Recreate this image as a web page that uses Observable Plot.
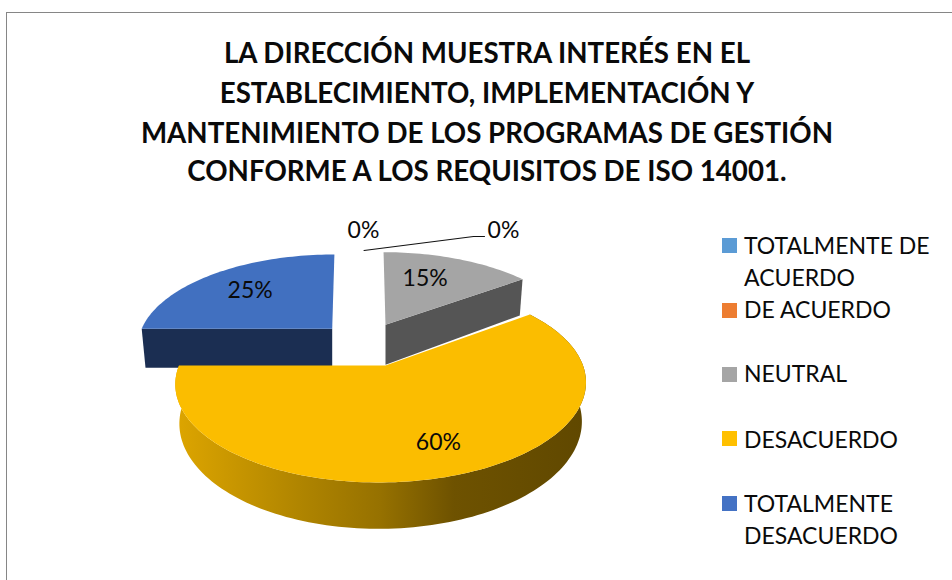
<!DOCTYPE html>
<html><head><meta charset="utf-8">
<script src="https://cdn.jsdelivr.net/npm/d3@7"></script>
<script src="https://cdn.jsdelivr.net/npm/@observablehq/plot@0.6"></script>
<style>
html,body{margin:0;padding:0;background:#fff;overflow:hidden}
#page{position:relative;width:952px;height:580px;overflow:hidden;font-family:Lato,"Open Sans",sans-serif;color:#0a0a0a}
#frame{position:absolute;left:6px;top:12px;width:1000px;height:700px;border:1px solid #868686;border-left-width:1.5px;box-sizing:border-box;pointer-events:none}
#chart{position:absolute;left:0;top:0}
#title div{position:absolute;left:0;width:974px;text-align:center;font-weight:700;font-size:27.7px;line-height:40px;white-space:nowrap}
.lg{position:absolute;left:744px;font-size:23px;line-height:32px;white-space:nowrap}
.sw{position:absolute;left:722px;width:15px;height:15px}
</style></head><body>
<div id="page"><div id="frame"></div><div id="chart"></div><div id="title"></div><div id="legend"></div></div>
<script>
const titleLines = ["LA DIRECCIÓN MUESTRA INTERÉS EN EL","ESTABLECIMIENTO, IMPLEMENTACIÓN Y","MANTENIMIENTO DE LOS PROGRAMAS DE GESTIÓN","CONFORME A LOS REQUISITOS DE ISO 14001."];
const categories = ["TOTALMENTE DE ACUERDO","DE ACUERDO","NEUTRAL","DESACUERDO","TOTALMENTE DESACUERDO"];
const shares = [0,0,15,60,25];
const topColors = ["#5B9BD5","#ED7D31","#A5A5A5","#FBBD00","#4170C0"];
const legendColors = ["#5B9BD5","#ED7D31","#A5A5A5","#FFC000","#4472C4"];
const sideColors = ["#3A6A94","#9C5220","#555555","url(#sideGold)","#1B2E52"];
const legendLines = [["TOTALMENTE DE","ACUERDO"],["DE ACUERDO"],["NEUTRAL"],["DESACUERDO"],["TOTALMENTE","DESACUERDO"]];

// Pie geometry (layout, per exploded slice)
const K = 0.18;
const geom = {
  NEUTRAL:{cx:385,cy:324.3,a:189,b:85.7,s:-2.3,h:40,vx:385,labelR:.67,labelDx:-11},
  DESACUERDO:{cx:380.5,cy:365,a:202,b:95.9,s:2,h:38,vx:385,labelR:.735,labelDx:6.5},
  "TOTALMENTE DESACUERDO":{cx:331.7,cy:328.3,a:190.5,b:87.7,s:2.6,h:39,vx:331.7,labelR:.67,labelDx:0}
};
function proj(g,ang,r=1,bottom=false){
  const X=Math.sin(ang)*r, Y=Math.cos(ang)*r, D=1+K*Y, sc=bottom?0.98:1;
  return {x:g.cx+sc*g.a*X/D+g.s*Y/D, y:g.cy-g.b*Y/D+(bottom?g.h/D:0)};
}
function arc(g,a0,a1,bottom=false){
  const n=Math.ceil(Math.abs(a1-a0)/(Math.PI/120));
  return d3.range(n+1).map(i=>proj(g,a0+(a1-a0)*i/n,1,bottom));
}
const arcs = d3.pie().sort(null).value(d=>d)(shares);
const slices = categories.map((c,i)=>({name:c,share:shares[i],start:arcs[i].startAngle,end:arcs[i].endAngle,top:topColors[i],side:sideColors[i],g:geom[c]}));

const marks=[];
const poly=(pts,fill)=>marks.push(Plot.line(pts,{x:"x",y:"y",fill,stroke:"none"}));
const order=["TOTALMENTE DESACUERDO","NEUTRAL","DESACUERDO"];
for(const name of order){
  const s=slices.find(d=>d.name===name), g=s.g;
  const c={x:g.vx,y:g.cy}, cb={x:g.vx,y:g.cy+g.h};
  if(name==="DESACUERDO"){
    poly([...arc(g,s.start,s.end),...arc(g,s.end,s.start,true)],s.side);
    poly([c,...arc(g,s.start,s.end)],s.top);
  } else if(name==="NEUTRAL"){
    const e=proj(g,s.end), eb=proj(g,s.end,1,true);
    poly([c,e,eb,cb],s.side);
    poly([c,...arc(g,s.start,s.end)],s.top);
  } else {
    const e=proj(g,s.start), eb=proj(g,s.start,1,true);
    poly([c,e,eb,cb],s.side);
    poly([c,...arc(g,s.start,s.end)],s.top);
  }
}
// leader line of the zero-share labels
const leader=[{x:363.5,y:250},{x:473,y:236},{x:484,y:236}];
marks.push(Plot.line(leader,{x:"x",y:"y",stroke:"#111",strokeWidth:1.1}));
const labelRows=slices.filter(d=>d.g).map(s=>{
  const m=(s.start+s.end)/2, p=proj(s.g,m,s.g.labelR);
  return {x:p.x+s.g.labelDx,y:p.y,t:s.share+"%"};
});
labelRows.push({x:363,y:230,t:shares[0]+"%"},{x:503,y:230,t:shares[1]+"%"});
marks.push(Plot.text(labelRows,{x:"x",y:"y",text:"t",fontSize:23,fill:"#0a0a0a",fontFamily:"Lato",textAnchor:"middle",lineAnchor:"middle"}));
// gradient definition for the rim of the largest slice
marks.push(()=>{
  const svgNS="http://www.w3.org/2000/svg";
  const d=document.createElementNS(svgNS,"defs");
  d.innerHTML=`<linearGradient id="sideGold" gradientUnits="userSpaceOnUse" x1="176" y1="0" x2="584" y2="0">
   <stop offset="0" stop-color="#DDA500"/><stop offset=".3" stop-color="#B08500"/><stop offset=".5" stop-color="#967100"/>
   <stop offset=".68" stop-color="#6E5200"/><stop offset="1" stop-color="#604800"/></linearGradient>`;
  return d;
});

const plot=Plot.plot({width:952,height:580,margin:0,
  x:{domain:[0,952],range:[0,952],axis:null},
  y:{domain:[0,580],range:[0,580],axis:null},
  style:{background:"transparent",fontFamily:"Lato"},
  marks});
document.getElementById("chart").append(plot);

const titleEl=document.getElementById("title");
const titleTops=[33,72.5,112.5,150.5];
titleLines.forEach((t,i)=>{const d=document.createElement("div");d.textContent=t;d.style.top=titleTops[i]+"px";titleEl.append(d);});
const lg=document.getElementById("legend");
const swTops=[238,303,367,431,496];
const textTops=[[229,261],[293],[357],[422.5],[486.5,519]];
legendLines.forEach((lines,i)=>{
  const sw=document.createElement("div");sw.className="sw";sw.style.top=swTops[i]+"px";sw.style.background=legendColors[i];lg.append(sw);
  lines.forEach((t,j)=>{const d=document.createElement("div");d.className="lg";d.textContent=t;d.style.top=textTops[i][j]+"px";lg.append(d);});
});
</script></body></html>
